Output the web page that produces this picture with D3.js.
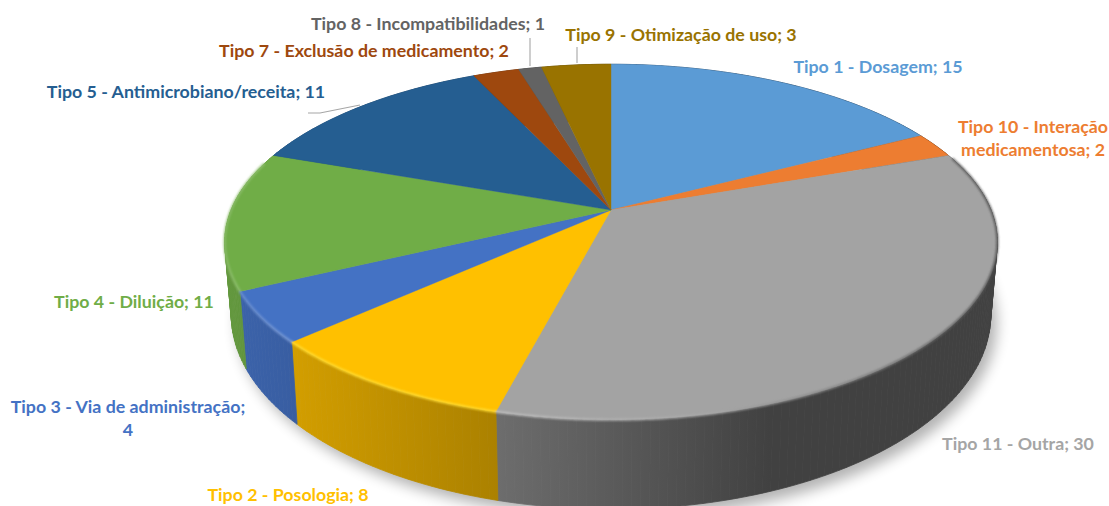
<!DOCTYPE html>
<html><head><meta charset="utf-8">
<style>html,body{margin:0;padding:0;background:#fff}svg{display:block}text{font-family:Lato,"Open Sans",sans-serif;font-weight:700;font-size:17.8px;}</style>
<script src="https://cdn.jsdelivr.net/npm/d3@7/dist/d3.min.js"></script>
</head><body><div id="c"></div>
<script>
const categories = ["Tipo 1 - Dosagem","Tipo 10 - Interação medicamentosa","Tipo 11 - Outra","Tipo 2 - Posologia","Tipo 3 - Via de administração","Tipo 4 - Diluição","Tipo 5 - Antimicrobiano/receita","Tipo 7 - Exclusão de medicamento","Tipo 8 - Incompatibilidades","Tipo 9 - Otimização de uso"];
const values = [15,2,30,8,4,11,11,2,1,3];
const colors = ["#5b9bd5","#ed7d31","#a3a3a3","#ffc000","#4472c4","#70ad47","#255e91","#9e480e","#636363","#997300"];
const labelColors = ["#5b9bd5","#ed7d31","#a5a5a5","#ffc000","#4472c4","#70ad47","#255e91","#9e480e","#636363","#997300"];
const labelLines = [["Tipo 1 - Dosagem; 15"],["Tipo 10 - Interação","medicamentosa; 2"],["Tipo 11 - Outra; 30"],["Tipo 2 - Posologia; 8"],["Tipo 3 - Via de administração;","4"],["Tipo 4 - Diluição; 11"],["Tipo 5 - Antimicrobiano/receita; 11"],["Tipo 7 - Exclusão de medicamento; 2"],["Tipo 8 - Incompatibilidades; 1"],["Tipo 9 - Otimização de uso; 3"]];
const labelCentres = [[878,67],[1033,127],[1018,444],[288,495],[128,407],[134,302],[186,92],[364,51],[428,24],[681,35]];
const leaders = [[[308,113],[320,113],[360,105]],[[530,38],[530,66]],[[577,47],[577,63]]];

const W=1109,H=506,cx=611,cy=210,a=380,b=172,k=0.18;
const svg=d3.select("#c").append("svg").attr("width",W).attr("height",H);
const defs=svg.append("defs");
defs.append("filter").attr("id","shadow").attr("x","-10%").attr("y","-10%").attr("width","120%").attr("height","130%")
  .append("feGaussianBlur").attr("stdDeviation",7);
defs.append("filter").attr("id","soft").attr("x","-5%").attr("y","-5%").attr("width","110%").attr("height","110%")
  .append("feGaussianBlur").attr("stdDeviation",0.8);

// perspective view of the top disc
function topRim(t){const u=Math.sin(t),w=-Math.cos(t),d=1-k*w;return [cx+a*u/d,cy+b*w/d];}
function bottomRim(t){const p=topRim(t);return [cx+(p[0]-cx)*0.983,cy+70+(p[1]-cy)*1.093];}
const line=d3.line();
const shadeX=[225,300,497,770,1000], shadeF=[.88,.82,.67,.40,.40];
const pie=d3.pie().sort(null).startAngle(0).endAngle(2*Math.PI);
const arcs=pie(values);
const samples=(s,e,st=0.01)=>{const n=Math.max(2,Math.ceil((e-s)/st));return d3.range(n+1).map(i=>s+(e-s)*i/n);};
const scale=(c,f)=>{const r=d3.rgb(c);return d3.rgb(r.r*f,r.g*f,r.b*f).formatHex();};

// soft ground shadow
const ring=samples(0,2*Math.PI);
svg.append("path").attr("d",line(ring.map(t=>{const p=bottomRim(t);return [p[0]+6,p[1]+8];}))+"Z")
  .attr("fill","#000").attr("opacity",.3).attr("filter","url(#shadow)");

// side wall: quads per slice, shaded left to right by one shared gradient
arcs.forEach((d,i)=>{
  const g=defs.append("linearGradient").attr("id","wall"+i).attr("gradientUnits","userSpaceOnUse")
    .attr("x1",shadeX[0]).attr("x2",shadeX[shadeX.length-1]).attr("y1",0).attr("y2",0);
  shadeX.forEach((x,j)=>g.append("stop")
    .attr("offset",(x-shadeX[0])/(shadeX[shadeX.length-1]-shadeX[0]))
    .attr("stop-color",scale(colors[i],shadeF[j])));
});
const wall=svg.append("g");
arcs.forEach((d,i)=>{
  d3.pairs(samples(d.startAngle,d.endAngle,0.02)).forEach(([t0,t1])=>{
    wall.append("path").attr("d",line([topRim(t0),topRim(t1),bottomRim(t1),bottomRim(t0)])+"Z")
      .attr("fill",`url(#wall${i})`).attr("stroke",`url(#wall${i})`).attr("stroke-width",.8);
  });
});

// top faces
svg.append("g").selectAll("path").data(arcs).join("path")
  .attr("d",d=>line([[cx,cy],...samples(d.startAngle,d.endAngle).map(topRim)])+"Z")
  .attr("fill",(d,i)=>colors[i]).attr("stroke",(d,i)=>colors[i]).attr("stroke-width",.4);

// bevel along the front rim
const lightAt=d3.scaleLinear().domain([225,300,500,640,740]).range([.2,.32,.32,.16,0]).clamp(true);
const darkAt=d3.scaleLinear().domain([720,900,990]).range([0,.3,.5]).clamp(true);
const bevel=svg.append("g").attr("filter","url(#soft)");
arcs.forEach((d,i)=>{
  const s=Math.max(d.startAngle,1.25),e=Math.min(d.endAngle,5.0);
  if(e<=s) return;
  d3.pairs(samples(s,e)).forEach(([t0,t1])=>{
    const p0=topRim(t0),p1=topRim(t1),x=(p0[0]+p1[0])/2;
    let c=d3.interpolateRgb(colors[i],i===3?"#ffee55":"#fff")(i===3?lightAt(x)*2:lightAt(x));
    c=scale(c,1-darkAt(x));
    bevel.append("path").attr("d",line([p0,p1])).attr("stroke",c).attr("stroke-width",2.2).attr("fill","none");
  });
});

// leaders
svg.append("g").selectAll("path").data(leaders).join("path").attr("d",d=>line(d))
  .attr("fill","none").attr("stroke","#a6a6a6").attr("stroke-width",1.1);

// labels
const lab=svg.append("g").attr("text-anchor","middle");
labelLines.forEach((ls,i)=>{
  ls.forEach((s,j)=>{
    lab.append("text").attr("x",labelCentres[i][0]).attr("y",labelCentres[i][1]+j*23)
      .attr("dy","0.35em").attr("fill",labelColors[i]).text(s);
  });
});
</script></body></html>
